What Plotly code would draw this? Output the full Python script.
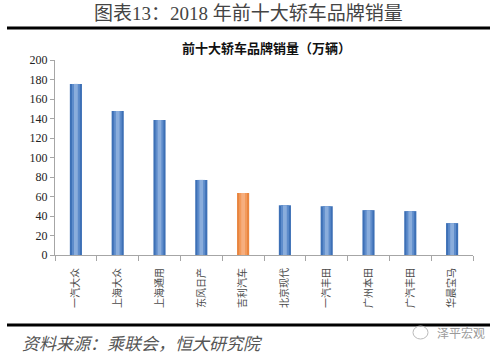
import plotly.graph_objects as go

categories = ["一汽大众", "上海大众", "上海通用", "东风日产", "吉利汽车",
              "北京现代", "一汽丰田", "广州本田", "广汽丰田", "华晨宝马"]
sales = [175.5, 147.7, 138.5, 77.0, 63.6, 51.0, 50.0, 46.0, 45.0, 32.7]
highlight = "吉利汽车"
y_ticks = [0, 20, 40, 60, 80, 100, 120, 140, 160, 180, 200]

edge_cols = ["#E9853F" if c == highlight else "#3D70B6" for c in categories]
mid_cols = ["#F6AE7E" if c == highlight else "#8AADDC" for c in categories]
mid2_cols = ["#F29A5C" if c == highlight else "#5E8CCB" for c in categories]

fig = go.Figure()
fig.add_trace(go.Bar(x=categories, y=sales, width=0.29,
                     marker=dict(color=edge_cols, line=dict(width=0)),
                     hoverinfo="x+y"))
fig.add_trace(go.Bar(x=categories, y=sales, width=0.19,
                     marker=dict(color=mid2_cols, line=dict(width=0)),
                     hoverinfo="skip"))
fig.add_trace(go.Bar(x=categories, y=sales, width=0.09,
                     marker=dict(color=mid_cols, line=dict(width=0)),
                     hoverinfo="skip"))

L, R, T, B = 55, 27, 60, 102
W, H = 500, 357
PW, PH = W - L - R, H - T - B

def px(x):
    return (x - L) / PW

def py(y):
    return (H - B - y) / PH

cjk = "Noto Sans CJK SC"
serif_cjk = "Liberation Serif, Noto Sans CJK SC"

fig.update_layout(
    width=W, height=H,
    margin=dict(l=L, r=R, t=T, b=B, pad=0),
    paper_bgcolor="white", plot_bgcolor="white",
    barmode="overlay", showlegend=False,
    xaxis=dict(type="category", showline=True, linecolor="#A6A6A6", linewidth=1,
               ticks="outside", tickson="boundaries", ticklen=5, tickcolor="#A6A6A6",
               tickangle=-90, ticklabelstandoff=8,
               tickfont=dict(family=cjk, size=10, color="#4A4A4A"),
               showgrid=False, zeroline=False, fixedrange=True, automargin=False),
    yaxis=dict(range=[0, 200], tickvals=y_ticks, showline=True, linecolor="#A6A6A6",
               linewidth=1, ticks="outside", ticklen=4, tickcolor="#A6A6A6",
               tickfont=dict(family="Liberation Serif", size=12, color="#222222"),
               showgrid=False, zeroline=False, fixedrange=True, automargin=False),
    font=dict(family=cjk),
)

annotations = [
    dict(text="图表13：2018 年前十大轿车品牌销量", x=px(248), y=py(14),
         font=dict(family=serif_cjk, size=19, color="#444444")),
    dict(text="<b>前十大轿车品牌销量（万辆）</b>", x=px(266), y=py(47),
         font=dict(family=cjk, size=13, color="#111111")),
    dict(text="<i>资料来源：乘联会，恒大研究院</i>", x=px(20), y=py(342), xanchor="left",
         font=dict(family=cjk, size=17, color="#555555")),
    dict(text="泽平宏观", x=px(461), y=py(332),
         font=dict(family=cjk, size=12, color="#9A9A9A")),
]
for a in annotations:
    a.setdefault("xanchor", "center")
    fig.add_annotation(xref="paper", yref="paper", yanchor="middle",
                       showarrow=False, **a)

shapes = [
    dict(type="line", x0=px(7), x1=px(490), y0=py(28), y1=py(28),
         line=dict(color="black", width=3)),
    dict(type="line", x0=px(7), x1=px(490), y0=py(325), y1=py(325),
         line=dict(color="black", width=3)),
    dict(type="circle", x0=px(413), x1=px(428), y0=py(339), y1=py(326),
         line=dict(color="#BBBBBB", width=1)),
]
for s in shapes:
    fig.add_shape(xref="paper", yref="paper", **s)

fig.write_html("out.html", config={"displayModeBar": False},
               post_script="document.body.style.margin='0';document.body.style.overflow='hidden';")
